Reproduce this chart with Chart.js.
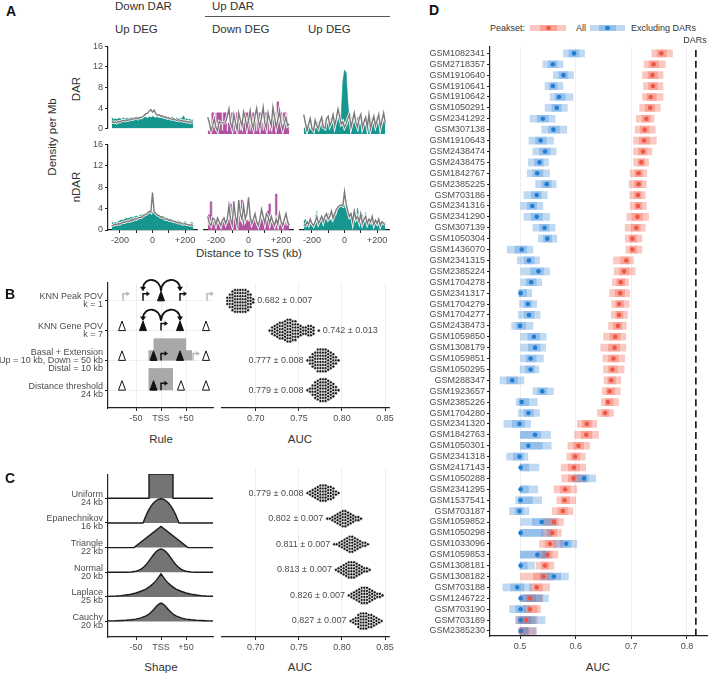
<!DOCTYPE html>
<html>
<head>
<meta charset="utf-8">
<script src="https://cdn.jsdelivr.net/npm/chart.js@4.4.1/dist/chart.umd.min.js"></script>
<style>
  body { margin: 0; background: #fff; }
  #fig { position: relative; width: 709px; height: 676px; overflow: hidden; font-family: 'Liberation Sans', Arial, sans-serif; color: #333; }
  #fig canvas { position: absolute; }
  .t { position: absolute; white-space: nowrap; line-height: 1; }
  .sw { position: absolute; }
</style>
</head>
<body>
<div id="fig"></div>
<script>
// ---------- data ----------
// panel A: density per Mb in 10 kb bins around the TSS
const distTss = [-250,-240,-230,-220,-210,-200,-190,-180,-170,-160,-150,-140,-130,-120,-110,-100,-90,-80,-70,-60,-50,-40,-30,-20,-10,0,10,20,30,40,50,60,70,80,90,100,110,120,130,140,150,160,170,180,190,200,210,220,230,240,250];
const darFill_downUp = [2.2,1.7,1.9,1.8,1.9,2.0,1.8,2.1,1.9,2.0,2.1,1.9,2.2,2.0,2.1,2.3,2.0,2.2,2.4,2.1,2.3,2.2,2.0,2.3,2.1,2.4,2.2,2.1,2.3,2.0,2.2,2.1,2.4,2.0,2.2,2.1,2.0,2.3,2.0,1.9,2.1,1.8,2.0,1.9,2.5,1.8,1.9,1.7,1.8,1.6,1.7];
const darLine_downUp = [1.4,1.2,1.3,1.1,1.4,1.3,1.5,1.6,1.5,1.7,1.6,1.8,1.9,1.8,2.0,2.1,1.9,2.2,2.1,2.3,2.6,2.9,3.0,3.4,3.7,3.2,3.6,2.9,2.6,2.7,2.4,2.5,2.2,2.3,2.0,2.1,1.9,1.8,1.9,1.7,1.6,1.8,1.5,1.6,1.4,1.5,1.3,1.4,1.2,1.3,1.2];
const darFill_upDown = [0.6,0.5,1.5,3.8,3.8,0.5,3.8,3.8,3.8,0.6,3.8,3.8,0.5,2.0,2.0,3.8,3.8,0.5,3.8,3.8,0.6,2.0,2.0,3.8,3.8,3.8,0.5,1.8,3.8,3.8,0.5,3.8,3.8,2.0,0.6,3.8,3.8,3.8,0.5,2.0,3.8,3.8,0.6,5.8,3.8,3.8,0.5,3.8,3.8,2.0,0.6];
const darLine_upDown = [3.0,2.0,0.6,1.5,2.8,1.2,0.6,2.2,2.0,2.0,2.0,2.2,3.2,4.5,2.0,1.0,3.5,2.0,0.8,3.8,2.5,1.5,4.0,3.0,1.0,2.5,4.2,2.0,1.0,3.2,4.6,2.5,1.2,3.0,4.8,2.0,1.0,3.8,2.5,1.5,4.8,3.0,1.2,2.5,4.2,2.0,0.8,2.0,3.0,1.5,1.8];
const darFill_upUp = [1.0,1.2,0.8,1.5,0.6,1.2,1.8,0.8,1.5,2.2,1.0,1.8,2.5,1.2,2.0,1.6,2.8,1.5,2.2,3.0,1.8,2.5,3.2,3.5,9.5,11.5,11.0,6.0,2.5,3.0,1.5,2.5,1.8,3.0,2.2,1.5,2.8,2.0,1.2,2.5,1.8,3.0,1.5,2.2,1.0,2.8,1.5,2.0,1.2,2.5,1.8];
const darLine_upUp = [3.5,2.0,0.6,1.8,2.8,1.0,0.6,2.5,1.5,1.0,2.2,3.0,1.2,1.0,2.8,3.2,1.5,2.2,3.5,1.5,2.8,4.5,3.2,1.8,2.2,1.2,1.8,2.8,3.5,1.2,2.5,3.8,2.0,1.2,2.8,3.5,1.2,2.2,3.0,1.2,3.5,1.0,2.2,3.2,1.5,2.5,3.5,1.2,2.5,3.8,2.0];
const ndarFill_downUp = [1.6,1.2,1.5,1.3,1.6,1.7,1.9,1.8,2.0,2.2,2.1,2.3,2.4,2.3,2.5,2.6,2.5,2.7,2.8,2.9,3.0,3.1,3.3,3.4,3.6,3.4,3.2,3.0,2.9,2.7,2.6,2.4,2.5,2.3,2.2,2.0,2.1,1.9,1.8,1.7,1.6,1.7,1.5,1.4,1.3,1.6,1.2,1.1,1.0,1.5,1.1];
const ndarLine_downUp = [0.8,0.9,1.1,1.0,1.2,1.1,1.3,1.5,1.4,1.6,1.7,1.6,1.9,1.8,2.1,2.0,2.2,2.4,2.3,2.6,2.8,2.9,3.2,3.5,3.3,7.0,3.4,3.1,2.8,2.7,2.4,2.5,2.2,2.0,2.1,1.8,1.9,1.7,1.6,1.6,1.4,1.3,1.4,1.2,1.1,1.2,1.0,1.0,0.9,1.0,0.8];
const ndarFill_upDown = [1.5,2.8,5.2,1.5,1.0,1.5,2.0,1.2,0.8,1.5,2.5,1.5,1.2,2.0,4.8,1.5,5.2,2.0,1.2,4.2,1.5,5.5,2.0,1.2,1.8,1.5,2.2,1.0,1.5,2.0,0.8,1.5,1.2,2.0,1.5,1.0,2.2,3.5,4.8,1.5,1.2,1.0,6.6,1.5,0.8,2.0,1.2,1.5,0.8,1.8,1.0];
const ndarLine_upDown = [2.5,1.2,0.8,2.2,2.0,1.0,2.2,1.5,0.8,1.8,2.2,1.2,2.0,4.5,2.0,1.0,5.0,2.5,1.0,5.5,3.0,2.0,4.5,2.0,3.0,6.0,2.5,1.2,2.0,3.0,1.5,0.8,2.0,3.8,2.5,1.2,3.0,2.5,1.2,2.5,1.5,0.8,2.0,1.0,3.0,1.5,0.8,2.0,3.0,1.5,0.8];
const ndarFill_upUp = [1.5,2.0,1.0,1.5,2.5,1.2,0.8,2.0,3.5,1.5,2.2,1.8,1.2,2.5,1.5,3.0,2.0,1.5,2.8,3.5,2.5,3.8,4.2,4.8,5.0,4.5,3.8,3.5,2.5,3.0,1.8,2.5,1.5,4.0,2.0,1.5,2.8,1.2,3.2,1.5,2.0,1.0,2.5,1.5,1.8,1.0,2.0,1.2,1.5,0.8,1.5];
const ndarLine_upUp = [1.0,0.8,1.5,1.0,2.0,1.2,0.8,1.5,2.5,1.2,1.8,2.5,1.5,2.5,3.0,2.0,2.5,3.5,2.2,3.0,3.8,4.2,4.5,4.6,4.4,7.0,4.8,3.5,2.5,3.0,1.5,3.5,2.0,2.5,1.5,3.0,1.2,2.0,2.5,1.2,2.0,1.5,2.5,1.0,1.8,1.2,2.0,0.8,1.5,1.2,1.0];
const densityTicks = [-200,-100,0,100,200];

// panel B: linking rules (schematic) and AUC per fold
const ruleLabels = [['KNN Peak POV','k = 1'],['KNN Gene POV','k = 7'],['Basal + Extension','Up = 10 kb, Down = 50 kb','Distal = 10 kb'],['Distance threshold','24 kb']];
const ruleTss = [[0,-76,1],[0,-36,0],[0,38,0],[0,92,1],[1,0,0],[2,0,0],[2,64,1],[3,0,0]];        // [row, kb, faded]
const rulePeaks = [[0,0,1],[1,-78,0],[1,-36,1],[1,38,1],[1,90,0],[2,-78,0],[2,-15,1],[2,38,1],[2,90,0],[3,-78,0],[3,-15,1],[3,40,0],[3,90,0]]; // [row, kb, filled]
const ruleLinks = [[0,0,-36],[0,0,38],[1,0,-36],[1,0,38]];                                         // [row, from, to]
const ruleDomains = [[2,-15,50,0.74],[2,-25,62,0.34],[3,-25,24,0.74]];                             // [row, from, to, height]
const ruleAuc = [
  [[0.667,3],[0.670,5],[0.673,7],[0.676,8],[0.679,8],[0.682,8],[0.685,8],[0.688,8],[0.691,7],[0.694,5],[0.697,2]],
  [[0.716,1],[0.719,3],[0.722,4],[0.725,5],[0.728,6],[0.731,6],[0.734,7],[0.737,8],[0.740,8],[0.743,7],[0.746,7],[0.749,5],[0.752,4],[0.755,3],[0.758,3],[0.761,4],[0.764,4],[0.767,3],[0.773,1]],
  [[0.760,1],[0.763,3],[0.766,5],[0.769,6],[0.772,8],[0.775,8],[0.778,8],[0.781,8],[0.784,7],[0.787,6],[0.790,5],[0.793,3],[0.796,1]],
  [[0.760,1],[0.763,2],[0.766,4],[0.769,6],[0.772,7],[0.775,8],[0.778,8],[0.781,8],[0.784,7],[0.787,6],[0.790,5],[0.793,3],[0.796,1]]
];
const ruleAucText = ['0.682 ± 0.007','0.742 ± 0.013','0.777 ± 0.008','0.779 ± 0.008'];
const ruleTextSide = ['right','right','left','left'];

// panel C: kernel shapes and AUC per fold
const shapeLabels = [['Uniform','24 kb'],['Epanechnikov','16 kb'],['Triangle','22 kb'],['Normal','20 kb'],['Laplace','25 kb'],['Cauchy','20 kb']];
const shapeUniform = [[-110,0],[-24,0],[-24,0.98],[24,0.98],[24,0],[110,0]];
const shapeEpan = [[-110,0],[-36,0],[-30,0.30],[-25,0.51],[-20,0.68],[-15,0.81],[-10,0.90],[-5,0.96],[0,0.98],[5,0.96],[10,0.90],[15,0.81],[20,0.68],[25,0.51],[30,0.30],[36,0],[110,0]];
const shapeTriangle = [[-110,0],[-54,0],[0,0.86],[54,0],[110,0]];
const shapeNormal = [[-110,0],[-70,0],[-60,0.01],[-50,0.04],[-45,0.075],[-40,0.13],[-35,0.20],[-30,0.30],[-25,0.43],[-20,0.57],[-15,0.71],[-10,0.83],[-5,0.91],[0,0.94],[5,0.91],[10,0.83],[15,0.71],[20,0.57],[25,0.43],[30,0.30],[35,0.20],[40,0.13],[45,0.075],[50,0.04],[60,0.01],[70,0],[110,0]];
const shapeLaplace = [[-110,0.02],[-90,0.038],[-80,0.054],[-70,0.08],[-60,0.11],[-50,0.16],[-40,0.23],[-30,0.32],[-20,0.46],[-15,0.55],[-10,0.66],[-5,0.79],[0,0.94],[5,0.79],[10,0.66],[15,0.55],[20,0.46],[30,0.32],[40,0.23],[50,0.16],[60,0.11],[70,0.08],[80,0.054],[90,0.038],[110,0.02]];
const shapeCauchy = [[-110,0.026],[-90,0.035],[-80,0.044],[-70,0.057],[-60,0.075],[-50,0.10],[-40,0.15],[-30,0.23],[-25,0.29],[-20,0.375],[-15,0.48],[-10,0.60],[-5,0.70],[0,0.75],[5,0.70],[10,0.60],[15,0.48],[20,0.375],[25,0.29],[30,0.23],[40,0.15],[50,0.10],[60,0.075],[70,0.057],[80,0.044],[90,0.035],[110,0.026]];
const shapeAuc = [
  [[0.760,1],[0.763,2],[0.766,3],[0.769,4],[0.772,5],[0.775,6],[0.778,6],[0.781,6],[0.784,5],[0.787,5],[0.790,4],[0.793,2],[0.796,1]],
  [[0.783,1],[0.786,1],[0.789,2],[0.792,3],[0.795,4],[0.798,5],[0.801,6],[0.804,6],[0.807,5],[0.810,4],[0.813,3],[0.816,2],[0.819,2],[0.822,1]],
  [[0.791,1],[0.794,1],[0.797,2],[0.800,3],[0.803,4],[0.806,5],[0.809,6],[0.812,6],[0.815,5],[0.818,4],[0.821,3],[0.824,2],[0.827,2],[0.830,1]],
  [[0.793,1],[0.796,2],[0.799,3],[0.802,4],[0.805,5],[0.808,6],[0.811,6],[0.814,6],[0.817,5],[0.820,4],[0.823,3],[0.826,2],[0.829,2],[0.832,1]],
  [[0.808,1],[0.811,2],[0.814,3],[0.817,4],[0.820,5],[0.823,6],[0.826,6],[0.829,6],[0.832,5],[0.835,4],[0.838,3],[0.841,2],[0.844,2],[0.847,1]],
  [[0.810,1],[0.813,2],[0.816,3],[0.819,5],[0.822,6],[0.825,6],[0.828,6],[0.831,5],[0.834,5],[0.837,4],[0.840,3],[0.843,2],[0.846,1]]
];
const shapeAucText = ['0.779 ± 0.008','0.802 ± 0.007','0.811 ± 0.007','0.813 ± 0.007','0.826 ± 0.007','0.827 ± 0.007'];
const aucTicks = [0.70,0.75,0.80,0.85];

// panel D: AUC per sample, median with 50% and 95% intervals
const samples = ['GSM1082341','GSM2718357','GSM1910640','GSM1910641','GSM1910642','GSM1050291','GSM2341292','GSM307138','GSM1910643','GSM2438474','GSM2438475','GSM1842767','GSM2385225','GSM703186','GSM2341316','GSM2341290','GSM307139','GSM1050304','GSM1436070','GSM2341315','GSM2385224','GSM1704278','GSM2341317','GSM1704279','GSM1704277','GSM2438473','GSM1059850','GSM1308179','GSM1059851','GSM1050295','GSM288347','GSM1923657','GSM2385226','GSM1704280','GSM2341320','GSM1842763','GSM1050301','GSM2341318','GSM2417143','GSM1050288','GSM2341295','GSM1537541','GSM703187','GSM1059852','GSM1050298','GSM1033096','GSM1059853','GSM1308181','GSM1308182','GSM703188','GSM1246722','GSM703190','GSM703189','GSM2385230'];
const allMid  = [0.754,0.740,0.738,0.739,0.735,0.734,0.727,0.724,0.723,0.721,0.718,0.713,0.713,0.712,0.712,0.711,0.709,0.702,0.702,0.691,0.687,0.681,0.680,0.678,0.678,0.676,0.671,0.670,0.668,0.666,0.664,0.661,0.658,0.653,0.620,0.619,0.605,0.599,0.597,0.596,0.581,0.580,0.577,0.561,0.558,0.554,0.549,0.545,0.542,0.530,0.518,0.518,0.511,0.502];
const allLo95 = [0.737,0.723,0.720,0.722,0.720,0.715,0.709,0.707,0.704,0.704,0.704,0.698,0.696,0.697,0.698,0.692,0.689,0.689,0.690,0.668,0.669,0.666,0.661,0.665,0.664,0.659,0.650,0.645,0.649,0.650,0.651,0.648,0.646,0.639,0.603,0.598,0.586,0.584,0.574,0.575,0.561,0.566,0.558,0.542,0.539,0.535,0.531,0.529,0.501,0.517,0.504,0.507,0.492,0.497];
const allHi95 = [0.774,0.761,0.757,0.757,0.757,0.752,0.741,0.743,0.745,0.737,0.731,0.728,0.727,0.725,0.727,0.731,0.725,0.719,0.719,0.704,0.707,0.695,0.697,0.696,0.693,0.691,0.690,0.690,0.688,0.687,0.681,0.680,0.677,0.668,0.638,0.641,0.625,0.617,0.618,0.619,0.602,0.600,0.595,0.578,0.574,0.577,0.568,0.561,0.560,0.553,0.541,0.537,0.531,0.529];
const allLo50 = [0.746,0.732,0.730,0.731,0.728,0.725,0.719,0.716,0.714,0.713,0.712,0.706,0.705,0.705,0.706,0.702,0.700,0.696,0.697,0.681,0.679,0.674,0.671,0.672,0.672,0.668,0.662,0.659,0.659,0.659,0.658,0.655,0.653,0.647,0.612,0.610,0.596,0.592,0.587,0.587,0.572,0.574,0.568,0.552,0.549,0.545,0.541,0.538,0.524,0.524,0.512,0.513,0.502,0.500];
const allHi50 = [0.763,0.749,0.747,0.747,0.745,0.742,0.734,0.732,0.733,0.728,0.724,0.720,0.719,0.718,0.719,0.720,0.716,0.710,0.710,0.697,0.696,0.688,0.688,0.686,0.685,0.683,0.680,0.679,0.677,0.675,0.672,0.670,0.667,0.660,0.628,0.629,0.614,0.607,0.607,0.606,0.590,0.589,0.585,0.569,0.566,0.563,0.558,0.552,0.550,0.540,0.528,0.531,0.520,0.516];
const exMid  = [0.597,0.559,0.578,0.559,0.570,0.566,0.541,0.560,0.537,0.545,0.535,0.531,0.548,0.530,0.522,0.530,0.544,0.549,0.503,0.516,0.533,0.520,0.501,0.514,0.516,0.500,0.525,0.527,0.519,0.519,0.486,0.540,0.503,0.515,0.499,0.527,0.515,0.499,0.501,0.615,0.501,0.501,0.499,0.539,0.501,0.583,0.531,0.501,0.561,0.495,0.501,0.501,0.501,0.501];
const exLo95 = [0.578,0.541,0.560,0.545,0.554,0.545,0.518,0.539,0.516,0.523,0.515,0.513,0.528,0.507,0.501,0.507,0.523,0.533,0.477,0.495,0.501,0.501,0.497,0.499,0.497,0.485,0.501,0.501,0.501,0.500,0.464,0.523,0.493,0.497,0.471,0.501,0.501,0.476,0.500,0.595,0.500,0.492,0.481,0.501,0.500,0.561,0.501,0.500,0.536,0.469,0.500,0.481,0.493,0.500];
const exHi95 = [0.616,0.577,0.596,0.577,0.595,0.585,0.563,0.584,0.560,0.565,0.551,0.553,0.565,0.549,0.541,0.553,0.563,0.566,0.523,0.535,0.553,0.539,0.521,0.530,0.536,0.523,0.547,0.546,0.542,0.534,0.507,0.560,0.531,0.535,0.519,0.555,0.556,0.514,0.534,0.636,0.532,0.539,0.516,0.565,0.557,0.602,0.553,0.526,0.587,0.522,0.551,0.518,0.545,0.529];
const exLo50 = [0.588,0.551,0.570,0.553,0.563,0.557,0.531,0.551,0.528,0.535,0.526,0.523,0.539,0.520,0.513,0.520,0.535,0.542,0.491,0.507,0.519,0.511,0.499,0.507,0.507,0.493,0.514,0.515,0.511,0.510,0.476,0.532,0.498,0.507,0.486,0.501,0.501,0.488,0.500,0.606,0.500,0.497,0.491,0.522,0.500,0.573,0.501,0.500,0.550,0.483,0.500,0.492,0.497,0.500];
const exHi50 = [0.606,0.567,0.586,0.567,0.581,0.574,0.551,0.571,0.547,0.554,0.542,0.541,0.556,0.538,0.530,0.540,0.552,0.557,0.512,0.525,0.542,0.529,0.512,0.521,0.525,0.510,0.535,0.536,0.529,0.526,0.496,0.548,0.516,0.524,0.508,0.537,0.540,0.506,0.516,0.623,0.515,0.522,0.506,0.551,0.541,0.592,0.545,0.513,0.573,0.507,0.539,0.510,0.527,0.514];
const darsAuc = 0.816;
const sampleTicks = [0.5,0.6,0.7,0.8];

// ---------- helpers ----------
const fig = document.getElementById('fig');
const INK = '#222';
const FONT = "'Liberation Sans', Arial, sans-serif";
Chart.defaults.font.family = FONT;
Chart.defaults.font.size = 9;
Chart.defaults.color = '#4d4d4d';

function text(str, x, y, o = {}) {
  const d = document.createElement('div');
  d.className = 't';
  d.textContent = str;
  d.style.left = x + 'px';
  d.style.top = y + 'px';
  d.style.fontSize = (o.size || 11.5) + 'px';
  if (o.bold) d.style.fontWeight = 'bold';
  if (o.color) d.style.color = o.color;
  const ax = o.align === 'left' ? '0' : '-50%';
  d.style.transform = `translate(${ax}, -50%)` + (o.rot ? ' rotate(-90deg)' : '');
  fig.appendChild(d);
}

function box(x, y, w, h, color, round) {
  const d = document.createElement('div');
  d.className = 'sw';
  Object.assign(d.style, {left: x + 'px', top: y + 'px', width: w + 'px', height: h + 'px', background: color});
  if (round) d.style.borderRadius = '50%';
  fig.appendChild(d);
}

// area = chart area in page px [x, y, w, h]; pad = room for axes [l, t, r, b]
function makeChart(area, pad, cfg) {
  const cv = document.createElement('canvas');
  cv.width = area[2] + pad[0] + pad[2];
  cv.height = area[3] + pad[1] + pad[3];
  cv.style.left = (area[0] - pad[0]) + 'px';
  cv.style.top = (area[1] - pad[1]) + 'px';
  fig.appendChild(cv);
  const sc = cfg.options.scales;
  const padding = {left: pad[0], top: pad[1], right: pad[2], bottom: pad[3]};
  if (sc.x.display !== false) { padding.bottom = 0; sc.x.afterFit = s => { s.height = pad[3]; }; }
  if (sc.y.display !== false) { padding.left = 0; sc.y.afterFit = s => { s.width = pad[0]; }; }
  cfg.options.layout = {autoPadding: false, padding};
  cfg.options.responsive = false;
  cfg.options.animation = false;
  cfg.options.plugins = Object.assign({legend: {display: false}, tooltip: {enabled: false}}, cfg.options.plugins || {});
  return new Chart(cv, cfg);
}

function axis(o) {
  const a = {
    type: 'linear', min: o.min, max: o.max, reverse: !!o.reverse, display: o.display !== false, offset: false,
    border: {display: true, color: INK, width: 1.2},
    grid: {offset: false, drawOnChartArea: !!o.grid, color: o.grid || 'rgba(0,0,0,0)', lineWidth: 0.8, tickLength: 3, tickColor: INK, tickWidth: 1},
    ticks: {autoSkip: false, maxRotation: 0, padding: 2, font: {size: 9, lineHeight: o.lineHeight || 1.2}}
  };
  if (o.step) a.ticks.stepSize = o.step;
  if (o.callback) a.ticks.callback = o.callback;
  if (o.ticks) a.afterBuildTicks = s => { s.ticks = o.ticks.map(v => ({value: v})); };
  return a;
}

function swarm(rows, gap) {
  const pts = [];
  rows.forEach((bins, r) => bins.forEach(([auc, n]) => {
    for (let k = 0; k < n; k++) pts.push({x: auc, y: r + (k - (n - 1) / 2) * gap});
  }));
  return pts;
}

const swarmText = {
  id: 'swarmText',
  afterDatasetsDraw(chart, args, opts) {
    const {ctx, scales: {x, y}} = chart;
    ctx.save();
    ctx.font = '9px ' + FONT;
    ctx.fillStyle = '#4d4d4d';
    ctx.textBaseline = 'middle';
    opts.rows.forEach((bins, r) => {
      const right = opts.sides[r] === 'right';
      const v = right ? Math.max(...bins.map(b => b[0])) : Math.min(...bins.map(b => b[0]));
      ctx.textAlign = right ? 'left' : 'right';
      ctx.fillText(opts.texts[r], x.getPixelForValue(v) + (right ? 4 : -4), y.getPixelForValue(r));
    });
    ctx.restore();
  }
};

const ruleSketch = {
  id: 'ruleSketch',
  afterDatasetsDraw(chart) {
    const {ctx, scales: {x, y}} = chart;
    const X = v => x.getPixelForValue(v), Y = v => y.getPixelForValue(v);
    ctx.save();
    ctx.fillStyle = '#a8a8a8';
    ruleDomains.forEach(([row, a, b, h]) => {
      ctx.fillRect(X(a), Y(row - h), X(b) - X(a), Y(row) - Y(row - h));
    });
    ruleLinks.forEach(([row, from, to]) => {
      const x0 = X(from), x1 = X(to), yb = Y(row);
      ctx.strokeStyle = '#111'; ctx.lineWidth = 1.8;
      ctx.beginPath();
      ctx.moveTo(x0, yb - 10);
      ctx.bezierCurveTo(x0 + (x1 - x0) * 0.05, yb - 24, x1 - (x1 - x0) * 0.05, yb - 24, x1, yb - 13);
      ctx.stroke();
      ctx.fillStyle = '#111';
      ctx.beginPath();
      ctx.moveTo(x1 - 3, yb - 14); ctx.lineTo(x1 + 3, yb - 14); ctx.lineTo(x1, yb - 9.5); ctx.closePath();
      ctx.fill();
    });
    ruleTss.forEach(([row, kb, faded]) => {
      const px = X(kb), yb = Y(row);
      const c = faded ? '#b8b8b8' : '#111';
      ctx.strokeStyle = c; ctx.fillStyle = c; ctx.lineWidth = 1.5;
      ctx.beginPath(); ctx.moveTo(px, yb); ctx.lineTo(px, yb - 7); ctx.lineTo(px + 4, yb - 7); ctx.stroke();
      ctx.beginPath(); ctx.moveTo(px + 3.5, yb - 9.5); ctx.lineTo(px + 7, yb - 7); ctx.lineTo(px + 3.5, yb - 4.5); ctx.closePath(); ctx.fill();
    });
    rulePeaks.forEach(([row, kb, filled]) => {
      const px = X(kb), yb = Y(row);
      ctx.beginPath(); ctx.moveTo(px, yb - 9.5); ctx.lineTo(px - 3.5, yb); ctx.lineTo(px + 3.5, yb); ctx.closePath();
      ctx.fillStyle = filled ? '#111' : '#fff'; ctx.fill();
      ctx.strokeStyle = '#111'; ctx.lineWidth = 1; ctx.stroke();
    });
    ctx.restore();
  }
};

// ---------- panel A ----------
const TEAL = '#17968f', MAGENTA = '#b2519f';
const aColLeft = [108, 204, 300], aRowTop = [45, 143], aRowH = [89, 87];
const aPanels = [
  [[darFill_downUp, darLine_downUp, TEAL, false], [darFill_upDown, darLine_upDown, MAGENTA, 'middle'], [darFill_upUp, darLine_upUp, TEAL, false]],
  [[ndarFill_downUp, ndarLine_downUp, TEAL, false], [ndarFill_upDown, ndarLine_upDown, MAGENTA, 'middle'], [ndarFill_upUp, ndarLine_upUp, TEAL, false]]
];
const pts = arr => distTss.map((x, i) => ({x, y: arr[i]}));
aPanels.forEach((row, r) => row.forEach(([fill, bg, color, stepped], c) => {
  const xa = axis({min: -273, max: 273, ticks: densityTicks,
    callback: v => v === 0 ? '0' : v === -200 ? '-200' : v === 200 ? '+200' : ''});
  xa.display = r === 1;
  const ya = axis({min: 0, max: 16, step: 4});
  ya.display = c === 0;
  makeChart([aColLeft[c], aRowTop[r], 89, aRowH[r]], [c === 0 ? 24 : 2, 6, 3, r === 1 ? 16 : 2], {
    type: 'line',
    data: {datasets: [
      {data: pts(bg), borderColor: '#7a7a7a', borderWidth: 1.4, order: 0},
      {data: pts(bg), borderColor: '#fff', borderWidth: 2.9, order: 1},
      {data: pts(fill), borderColor: color, backgroundColor: color, borderWidth: 0.6, fill: 'origin', stepped, order: 2}
    ]},
    options: {elements: {point: {radius: 0}, line: {tension: 0}}, scales: {x: xa, y: ya}}
  });
}));

text('A', 11, 11, {bold: true, size: 14, color: '#111'});
text('Down DAR', 115, 7, {align: 'left'});
text('Up DAR', 212, 7, {align: 'left'});
box(205, 16, 185, 1.4, '#555');
text('Up DEG', 115, 30, {align: 'left'});
text('Down DEG', 212, 30, {align: 'left'});
text('Up DEG', 308, 30, {align: 'left'});
text('Density per Mb', 53, 137, {rot: true});
text('DAR', 77, 89, {rot: true});
text('nDAR', 77, 187, {rot: true});
text('Distance to TSS (kb)', 249, 254);

// ---------- panel B ----------
const GRIDC = '#ebebeb';
const kbCallback = v => v === 0 ? 'TSS' : (v > 0 ? '+' + v : String(v));
makeChart([108, 283, 105, 125], [108, 12, 2, 16], {
  type: 'scatter',
  data: {datasets: []},
  options: {scales: {
    x: axis({min: -106, max: 104, ticks: [-50, 0, 50], grid: GRIDC, callback: kbCallback}),
    y: axis({min: -0.6, max: 3.6, reverse: true, ticks: [0, 1, 2, 3], grid: GRIDC, lineHeight: 0.9, callback: v => ruleLabels[v]})
  }},
  plugins: [ruleSketch]
});

const dotStyle = {pointRadius: 1.55, pointBackgroundColor: '#151515', pointBorderColor: '#fff', pointBorderWidth: 0.6};
const aucAxis = () => axis({min: 0.6608, max: 0.8546, ticks: aucTicks, grid: GRIDC, callback: v => v.toFixed(2)});
const hidden = (min, max) => { const a = axis({min, max, reverse: true}); a.display = false; return a; };

makeChart([222, 283, 168, 125], [4, 12, 6, 16], {
  type: 'scatter',
  data: {datasets: [Object.assign({data: swarm(ruleAuc, 0.104)}, dotStyle)]},
  options: {scales: {x: aucAxis(), y: hidden(-0.6, 3.6)},
    plugins: {swarmText: {rows: ruleAuc, texts: ruleAucText, sides: ruleTextSide}}},
  plugins: [swarmText]
});

text('B', 10, 294, {bold: true, size: 14, color: '#111'});
text('Rule', 161, 440);
text('AUC', 300, 440);

// ---------- panel C ----------
const shapes = [shapeUniform, shapeEpan, shapeTriangle, shapeNormal, shapeLaplace, shapeCauchy];
makeChart([108, 468, 105, 169], [108, 4, 2, 16], {
  type: 'line',
  data: {datasets: shapes.map((s, r) => ({
    data: s.map(([kb, h]) => ({x: kb, y: r - h})),
    fill: {value: r}, backgroundColor: '#747474', borderColor: '#1c1c1c', borderWidth: 1.4,
    pointRadius: 0, tension: 0, order: 10 - r
  }))},
  options: {scales: {
    x: axis({min: -106, max: 104, ticks: [-50, 0, 50], callback: kbCallback}),
    y: axis({min: -0.98, max: 5.625, reverse: true, ticks: [0, 1, 2, 3, 4, 5], lineHeight: 0.9, callback: v => shapeLabels[v]})
  }}
});

makeChart([222, 468, 168, 169], [4, 4, 6, 16], {
  type: 'scatter',
  data: {datasets: [Object.assign({data: swarm(shapeAuc, 0.118)}, dotStyle)]},
  options: {scales: {x: aucAxis(), y: hidden(-0.98, 5.625)},
    plugins: {swarmText: {rows: shapeAuc, texts: shapeAucText, sides: shapeAuc.map(() => 'left')}}},
  plugins: [swarmText]
});

text('C', 10, 478, {bold: true, size: 14, color: '#111'});
text('Shape', 161, 668);
text('AUC', 300, 668);

// ---------- panel D ----------
const RED = 'rgba(242,85,62,0.32)', BLUE = 'rgba(45,128,214,0.3)';
const band = (lo, hi, color, order) => ({
  type: 'bar', indexAxis: 'y', grouped: false, barThickness: 7, backgroundColor: color, borderWidth: 0, order,
  data: samples.map((_, i) => ({y: i, x: [lo[i], hi[i]]}))
});
const mids = (mid, color, order) => ({
  type: 'scatter', order, pointRadius: 2.3, pointBackgroundColor: color, pointBorderWidth: 0,
  data: samples.map((_, i) => ({x: mid[i], y: i}))
});
makeChart([490, 45, 217, 591], [62, 6, 2, 16], {
  type: 'bar',
  data: {datasets: [
    mids(exMid, '#1f7fd4', 0),
    mids(allMid, '#ee5745', 1),
    band(exLo50, exHi50, BLUE, 2),
    band(exLo95, exHi95, BLUE, 3),
    band(allLo50, allHi50, RED, 4),
    band(allLo95, allHi95, RED, 5),
    {type: 'line', order: 6, borderColor: '#111', borderWidth: 1.6, borderDash: [7, 3.92], pointRadius: 0,
     data: [{x: darsAuc, y: -0.32}, {x: darsAuc, y: 53.4}]}
  ]},
  options: {scales: {
    x: axis({min: 0.446, max: 0.836, ticks: sampleTicks, grid: GRIDC, callback: v => v.toFixed(1)}),
    y: axis({min: -0.64, max: 53.46, reverse: true, ticks: samples.map((_, i) => i), callback: v => samples[v]})
  }}
});

text('D', 434, 10, {bold: true, size: 14, color: '#111'});
text('Peakset:', 490, 28, {align: 'left', size: 9});
box(530, 25, 36, 6, RED); box(540, 25, 17, 6, RED); box(546, 25.7, 4.6, 4.6, '#ee5745', true);
text('All', 576, 28, {align: 'left', size: 9});
box(590, 25, 35, 6, BLUE); box(599, 25, 17, 6, BLUE); box(605, 25.7, 4.6, 4.6, '#1f7fd4', true);
text('Excluding DARs', 631, 28, {align: 'left', size: 9});
text('DARs', 695, 40, {size: 9});
text('AUC', 598, 668);
</script>
</body>
</html>
